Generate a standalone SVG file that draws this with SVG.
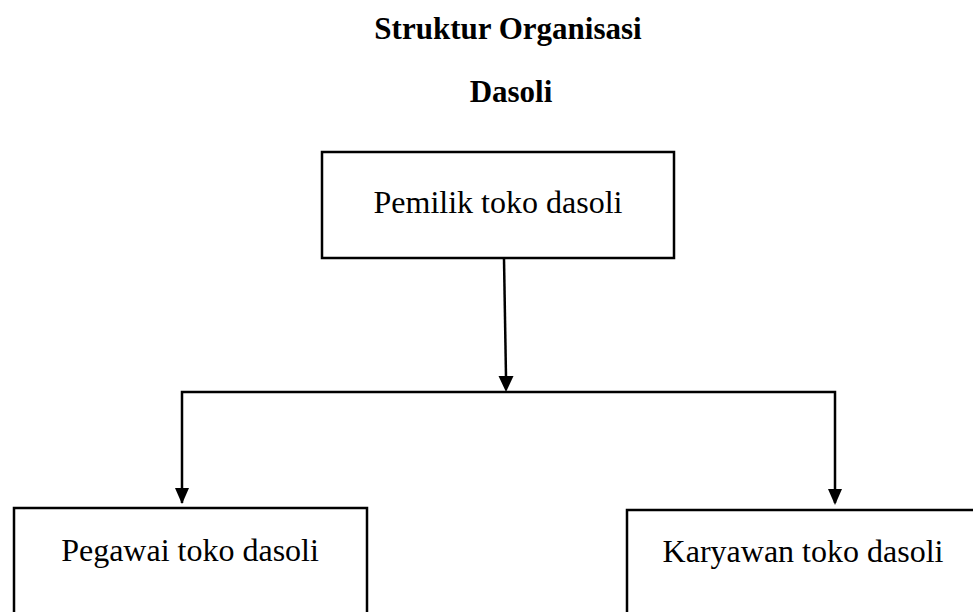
<svg xmlns="http://www.w3.org/2000/svg" width="973" height="612" viewBox="0 0 973 612">
<style>
.box{fill:#fff;stroke:#000;stroke-width:2.5}
.t{font-family:"Liberation Serif","Times New Roman",serif;font-size:32px;fill:#000;text-anchor:middle}
.h{font-family:"Liberation Serif","Times New Roman",serif;font-size:31px;font-weight:bold;fill:#000;text-anchor:middle}
.ln{fill:none;stroke:#000;stroke-width:2.5}
.ah{fill:#000}
</style>
<rect width="973" height="612" fill="#fff"/>
<g id="title">
<text class="h" x="508" y="39">Struktur Organisasi</text>
<text class="h" x="511" y="102">Dasoli</text>
</g>
<g id="connectors">
<path class="ln" d="M504,259 L506,377"/>
<path class="ah" d="M498.5,376 L513.5,376 L506,392 Z"/>
<path class="ln" d="M182,503 L182,392 L835,392 L835,503"/>
<path class="ah" d="M175,488 L189,488 L182,504 Z"/>
<path class="ah" d="M828,489 L842,489 L835,505 Z"/>
</g>
<g id="pemilik">
<rect class="box" x="322" y="152" width="352" height="106"/>
<text class="t" x="498" y="213">Pemilik toko dasoli</text>
</g>
<g id="pegawai">
<rect class="box" x="14" y="508" width="353" height="120"/>
<text class="t" x="190" y="561">Pegawai toko dasoli</text>
</g>
<g id="karyawan">
<rect class="box" x="627" y="510" width="360" height="120"/>
<text class="t" x="803" y="562">Karyawan toko dasoli</text>
</g>
</svg>
